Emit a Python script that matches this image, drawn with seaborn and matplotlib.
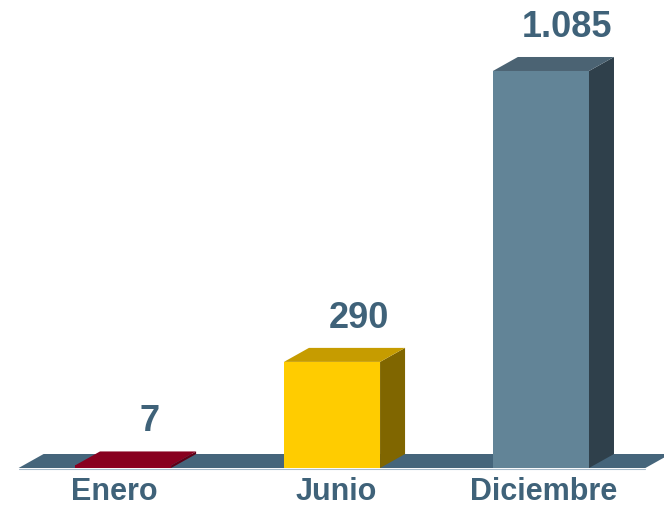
import matplotlib
matplotlib.use('Agg')
import matplotlib.pyplot as plt
import seaborn as sns
import pandas as pd
from matplotlib.patches import Polygon, Rectangle

categories = ['Enero', 'Junio', 'Diciembre']
values = [7, 290, 1085]
value_labels = ['7', '290', '1.085']
front_colors = ['#8c0021', '#ffcc00', '#628497']
top_colors = ['#88001f', '#c69c00', '#4b6373']
side_colors = ['#5e0016', '#806600', '#2f404b']
floor_color = '#45657b'
text_color = '#3f6279'
label_shift_px = [-9, 4, 3]

sns.set_theme(style='white')
plt.rcParams['font.family'] = ['Liberation Sans', 'DejaVu Sans']

W, H, DPI = 664, 508, 100
fig = plt.figure(figsize=(W / DPI, H / DPI), dpi=DPI)
ax = fig.add_axes([0, 0, 1, 1])
df = pd.DataFrame({'mes': categories, 'valor': values})
sns.barplot(data=df, x='mes', y='valor', hue='mes', palette=front_colors,
            width=0.46, legend=False, ax=ax, saturation=1, linewidth=0,
            zorder=3)
ax.set_xlim(-0.589, 2.589)
ax.set_ylim(-109.3, 1279)
ax.axis('off')

bars = sorted([p for p in ax.patches if isinstance(p, Rectangle) and p.get_height() > 0],
              key=lambda p: p.get_x())

x0, x1 = ax.get_xlim()
y0, y1 = ax.get_ylim()
ux = (x1 - x0) / W
uy = (y1 - y0) / H
DX = 25 * ux
DY = 14 * uy

# floor
ax.add_patch(Polygon([(-0.5, 0), (2.5, 0), (2.5 + DX, DY), (-0.5 + DX, DY)],
                     closed=True, facecolor=floor_color, edgecolor='none',
                     zorder=1))
ax.plot([-0.5, 2.5], [-0.6 * uy, -0.6 * uy], color='#a9bccb', lw=0.8, zorder=1)

for i, p in enumerate(bars):
    xl = p.get_x()
    xr = xl + p.get_width()
    h = p.get_height()
    cx = xl + p.get_width() / 2
    ax.add_patch(Polygon([(xr, 0), (xr + DX, DY), (xr + DX, h + DY), (xr, h)],
                         closed=True, facecolor=side_colors[i], edgecolor='none', zorder=3))
    ax.add_patch(Polygon([(xl, h), (xr, h), (xr + DX, h + DY), (xl + DX, h + DY)],
                         closed=True, facecolor=top_colors[i], edgecolor='none', zorder=3))
    ax.text(cx + DX + 1.5 * ux, h + DY + 20 * uy, value_labels[i], ha='center', va='baseline',
            fontsize=26, fontweight='bold', color=text_color)
    ax.text(cx + label_shift_px[i] * ux, y0 + 7.5 * uy, categories[i], ha='center',
            va='baseline', fontsize=22, fontweight='bold', color=text_color)

fig.savefig('out.png', dpi=DPI)
